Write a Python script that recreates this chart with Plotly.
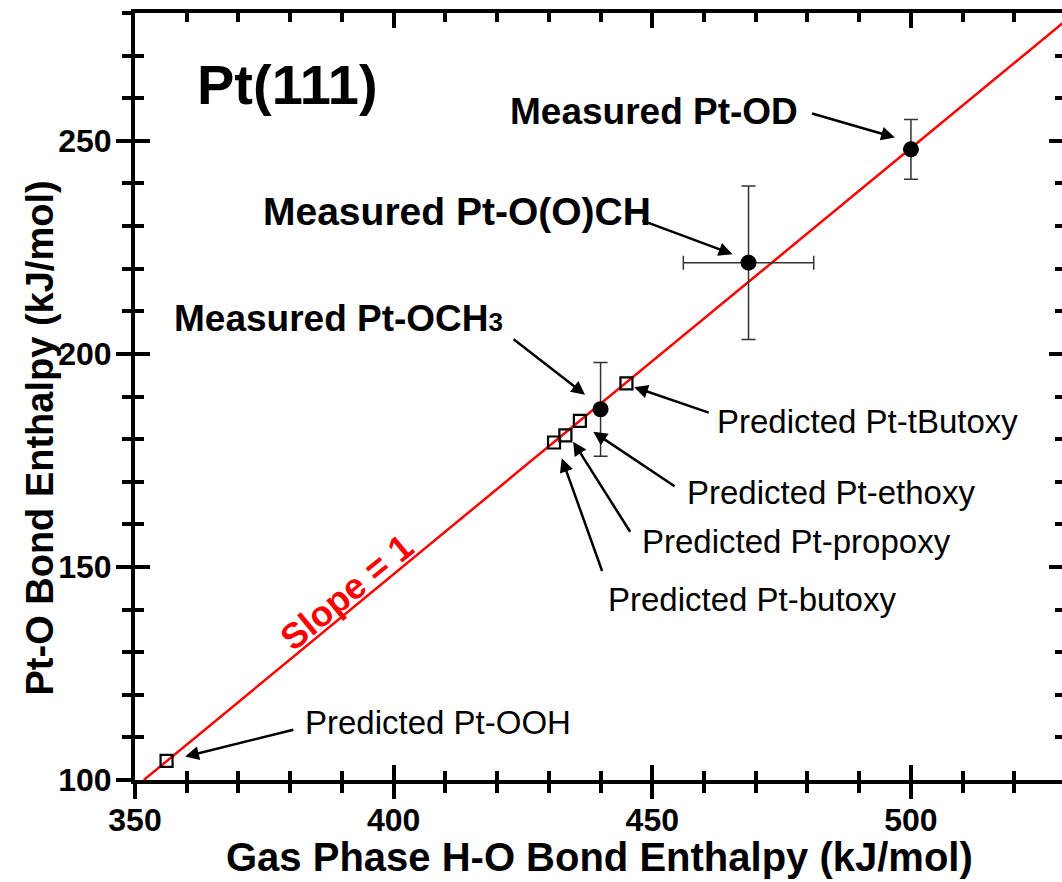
import plotly.graph_objects as go

# ---- data ----
measured_names = ["Measured Pt-OD", "Measured Pt-O(O)CH", "Measured Pt-OCH3"]
measured_x = [500.0, 468.6, 440.0]
measured_y = [248.0, 221.4, 187.0]
measured_xerr = [0.0, 12.6, 0.0]
measured_yerr = [7.0, 18.0, 11.0]

predicted_names = ["Predicted Pt-tButoxy", "Predicted Pt-ethoxy", "Predicted Pt-propoxy",
                   "Predicted Pt-butoxy", "Predicted Pt-OOH"]
predicted_x = [445.0, 436.0, 433.2, 431.0, 356.1]
predicted_y = [193.1, 184.3, 180.9, 179.2, 104.5]

slope_x = [351.7, 531.7]
slope_y = [100.0, 280.0]

x_range = [350, 529.2]
y_range = [100, 280]
x_ticks = [350, 400, 450, 500]
y_ticks = [100, 150, 200, 250]

# label texts and anchor positions (data coords)
labels = [
    # text, x, y, xanchor, bold, size
    ("Pt(111)", 361.6, 263.3, "left", True, 56),
    ("Measured Pt-OD", 478.6, 257.0, "right", True, 37),
    ("Measured Pt-O(O)CH", 450.1, 233.4, "right", True, 39),
    ("Measured Pt-OCH<span style='font-size:26px'>3</span>", 421.5, 208.2, "right", True, 37),
    ("Predicted Pt-tButoxy", 462.1, 184.2, "left", False, 33),
    ("Predicted Pt-ethoxy", 456.3, 167.4, "left", False, 33),
    ("Predicted Pt-propoxy", 447.6, 156.0, "left", False, 33),
    ("Predicted Pt-butoxy", 441.0, 142.3, "left", False, 33),
    ("Predicted Pt-OOH", 382.5, 113.6, "left", False, 33),
]

# arrows: tail (x, y) -> tip (x, y)
arrow_tail_x = [480.6, 447.8, 422.9, 461.2, 454.6, 445.9, 440.4, 380.9]
arrow_tail_y = [256.5, 231.4, 203.7, 186.1, 168.7, 157.9, 148.7, 111.9]
arrow_tip_x = [496.9, 465.5, 437.0, 446.5, 438.6, 434.7, 432.5, 359.7]
arrow_tip_y = [250.8, 223.4, 190.4, 192.2, 181.7, 179.4, 175.5, 105.5]

x_title = "Gas Phase H-O Bond Enthalpy (kJ/mol)"
y_title = "Pt-O Bond Enthalpy (kJ/mol)"

FONT = "Liberation Sans, Arial, sans-serif"

fig = go.Figure()

fig.add_trace(go.Scatter(
    x=slope_x, y=slope_y, mode="lines",
    line=dict(color="#ff0000", width=2.5),
    showlegend=False, hoverinfo="skip"))

fig.add_trace(go.Scatter(
    x=measured_x, y=measured_y, mode="markers",
    marker=dict(symbol="circle", size=16, color="black"),
    error_y=dict(type="data", array=measured_yerr, color="#333333", thickness=1.5, width=7),
    error_x=dict(type="data", array=measured_xerr, color="#333333", thickness=1.5, width=7),
    text=measured_names, showlegend=False))

fig.add_trace(go.Scatter(
    x=predicted_x, y=predicted_y, mode="markers",
    marker=dict(symbol="square-open", size=12, color="black", line=dict(width=2.2)),
    text=predicted_names, showlegend=False))

# dummy traces so the overlay tick axes are drawn
for xa, ya in [("x2", "y"), ("x3", "y"), ("x", "y2"), ("x", "y3")]:
    fig.add_trace(go.Scatter(x=[None], y=[None], xaxis=xa, yaxis=ya,
                             showlegend=False, hoverinfo="skip"))

for t, x, y, xa, bold, size in labels:
    fig.add_annotation(x=x, y=y, xref="x", yref="y", text=(f"<b>{t}</b>" if bold else t),
                       showarrow=False, xanchor=xa, yanchor="middle",
                       font=dict(family=FONT, size=size, color="black"))

for tx, ty, hx, hy in zip(arrow_tail_x, arrow_tail_y, arrow_tip_x, arrow_tip_y):
    fig.add_annotation(x=hx, y=hy, ax=tx, ay=ty, xref="x", yref="y", axref="x", ayref="y",
                       text="", showarrow=True, arrowhead=2, arrowsize=1.1,
                       arrowwidth=2.5, arrowcolor="black")

fig.add_annotation(x=390.8, y=144.1, xref="x", yref="y", text="<b>Slope = 1</b>",
                   showarrow=False, textangle=-39.5,
                   font=dict(family=FONT, size=36, color="#ff0000"))

# axis titles
fig.add_annotation(x=0.5016, y=-0.1004, xref="paper", yref="paper", text=f"<b>{x_title}</b>",
                   showarrow=False, xanchor="center", yanchor="middle",
                   font=dict(family=FONT, size=40, color="black"))
fig.add_annotation(x=-0.1025, y=0.4465, xref="paper", yref="paper", text=f"<b>{y_title}</b>",
                   showarrow=False, xanchor="center", yanchor="middle", textangle=-90,
                   font=dict(family=FONT, size=38, color="black"))

common_x = dict(range=x_range, showgrid=False, zeroline=False, automargin=False)
common_y = dict(range=y_range, showgrid=False, zeroline=False, automargin=False)
tickfont = dict(family=FONT, size=32, color="black", weight="bold")

fig.update_layout(
    width=1062, height=882,
    margin=dict(l=135, r=0, t=13, b=102, autoexpand=False),
    paper_bgcolor="white", plot_bgcolor="white",
    font=dict(family=FONT, color="black"),
    xaxis=dict(**common_x, showline=True, linewidth=4, linecolor="black", mirror=True,
               ticks="outside", tickvals=x_ticks, ticktext=[f"<b>{v}</b>" for v in x_ticks],
               ticklen=15, tickwidth=4, tickcolor="black", ticklabelstandoff=-6,
               minor=dict(dtick=10, tick0=350, ticks="outside", ticklen=9, tickwidth=3.5, tickcolor="black"),
               tickfont=tickfont),
    xaxis2=dict(**common_x, overlaying="x", anchor="y", side="bottom", showline=False,
                ticks="inside", tickvals=x_ticks, ticklen=15, tickwidth=4, tickcolor="black",
                minor=dict(dtick=10, tick0=350, ticks="inside", ticklen=9, tickwidth=3.5, tickcolor="black"),
                showticklabels=False),
    xaxis3=dict(**common_x, overlaying="x", anchor="y", side="top", showline=False,
                ticks="inside", tickvals=x_ticks, ticklen=15, tickwidth=4, tickcolor="black",
                minor=dict(dtick=10, tick0=350, ticks="inside", ticklen=9, tickwidth=3.5, tickcolor="black"),
                showticklabels=False),
    yaxis=dict(**common_y, showline=True, linewidth=4, linecolor="black",
               ticks="outside", tickvals=y_ticks, ticktext=[f"<b>{v}</b>" for v in y_ticks],
               ticklen=15, tickwidth=4, tickcolor="black", ticklabelstandoff=-2,
               minor=dict(dtick=10, tick0=100, ticks="outside", ticklen=9, tickwidth=3.5, tickcolor="black"),
               tickfont=tickfont),
    yaxis2=dict(**common_y, overlaying="y", anchor="x", side="left", showline=False,
                ticks="inside", tickvals=y_ticks, ticklen=15, tickwidth=4, tickcolor="black",
                minor=dict(dtick=10, tick0=100, ticks="inside", ticklen=9, tickwidth=3.5, tickcolor="black"),
                showticklabels=False),
    yaxis3=dict(**common_y, overlaying="y", anchor="x", side="right", showline=False,
                ticks="inside", tickvals=y_ticks, ticklen=13, tickwidth=4, tickcolor="black",
                minor=dict(dtick=10, tick0=100, ticks="inside", ticklen=7, tickwidth=3.5, tickcolor="black"),
                showticklabels=False),
)

fig.write_html("out.html", config={"displayModeBar": False},
               post_script="document.body.style.margin='0';document.body.style.overflow='hidden';")
